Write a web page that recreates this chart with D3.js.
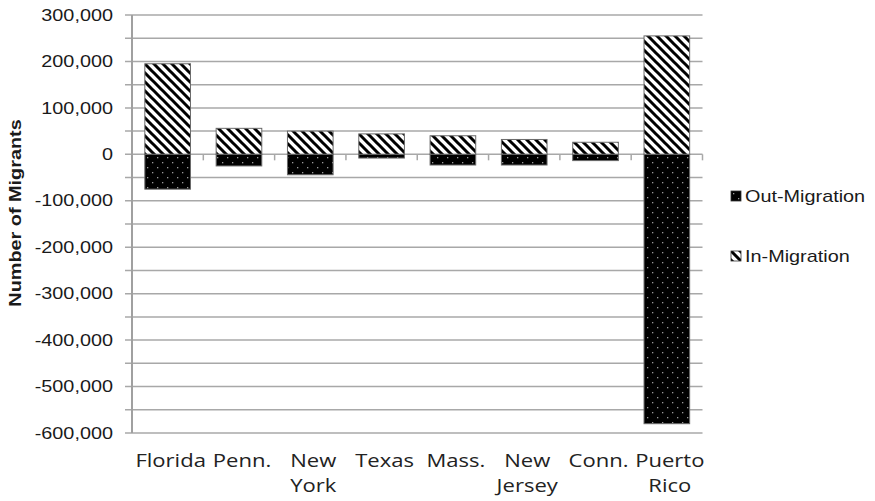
<!DOCTYPE html>
<html>
<head>
<meta charset="utf-8">
<script src="https://cdn.jsdelivr.net/npm/d3@7"></script>
<style>
  html, body { margin: 0; padding: 0; background: #fff; }
  svg { display: block; }
</style>
</head>
<body>
<svg id="chart" width="875" height="501"></svg>
<script>
// Net migration by state: people moving in vs. moving out
const categories = [["Florida"], ["Penn."], ["New", "York"], ["Texas"], ["Mass."], ["New", "Jersey"], ["Conn."], ["Puerto", "Rico"]];
const inMigration  = [195000, 56000, 50000, 44000, 40000, 32000, 26000, 255000];
const outMigration = [-75000, -25000, -44000, -8000, -23000, -23000, -13500, -580000];
const yTicks = [300000, 200000, 100000, 0, -100000, -200000, -300000, -400000, -500000, -600000];
const legendItems = ["Out-Migration", "In-Migration"];

const svg = d3.select("#chart");
const plotLeft = 132, plotRight = 702.5, plotTop = 15, plotBottom = 433;
const sx = 1.24; // horizontal stretch of the lettering
const sansFont = "'Liberation Sans', Arial, Helvetica, sans-serif";

const x = d3.scaleBand()
  .domain(d3.range(categories.length))
  .range([plotLeft, plotRight])
  .paddingInner(0.36)
  .paddingOuter(0.18);
const y = d3.scaleLinear().domain([-600000, 300000]).range([plotBottom, plotTop]);

// Fill patterns
const defs = svg.append("defs");
const stripes = defs.append("pattern")
  .attr("id", "stripes").attr("patternUnits", "userSpaceOnUse")
  .attr("width", 9).attr("height", 9);
stripes.append("rect").attr("width", 9).attr("height", 9).attr("fill", "#fff");
stripes.append("path")
  .attr("d", "M-2,-2 L11,11 M-6.5,2.5 L2.5,11.5 M2.5,-6.5 L11.5,2.5")
  .attr("stroke", "#000").attr("stroke-width", 3);

const dots = defs.append("pattern")
  .attr("id", "dots").attr("patternUnits", "userSpaceOnUse")
  .attr("width", 10).attr("height", 10);
dots.append("rect").attr("width", 10).attr("height", 10).attr("fill", "#000");
dots.append("rect").attr("x", 2).attr("y", 2).attr("width", 1.3).attr("height", 1.3).attr("fill", "#9a9a9a");
dots.append("rect").attr("x", 7).attr("y", 7).attr("width", 1.3).attr("height", 1.3).attr("fill", "#9a9a9a");

// Gridlines every 50,000 with matching left ticks
const gridVals = d3.range(-600000, 300001, 50000);
svg.append("g").selectAll("line").data(gridVals).join("line")
  .attr("x1", plotLeft - 7).attr("x2", plotRight)
  .attr("y1", d => y(d)).attr("y2", d => y(d))
  .attr("stroke", "#a8a8a8").attr("stroke-width", 1.5);

// Category ticks below the zero line
const bounds = d3.range(1, categories.length + 1).map(i => plotLeft + (plotRight - plotLeft) * i / categories.length);
svg.append("g").selectAll("line").data(bounds).join("line")
  .attr("x1", d => d).attr("x2", d => d)
  .attr("y1", y(0)).attr("y2", y(0) + 6)
  .attr("stroke", "#a8a8a8").attr("stroke-width", 1.5);

// Y axis line
svg.append("line")
  .attr("x1", plotLeft).attr("x2", plotLeft).attr("y1", plotTop).attr("y2", plotBottom)
  .attr("stroke", "#a0a0a0").attr("stroke-width", 2);

// Bars
const bars = svg.append("g");
bars.selectAll("rect.in").data(inMigration).join("rect")
  .attr("class", "in")
  .attr("x", (d, i) => x(i)).attr("width", x.bandwidth())
  .attr("y", d => y(d)).attr("height", d => y(0) - y(d))
  .attr("fill", "url(#stripes)").attr("stroke", "#6a6a6a").attr("stroke-width", 1);
bars.selectAll("rect.out").data(outMigration).join("rect")
  .attr("class", "out")
  .attr("x", (d, i) => x(i)).attr("width", x.bandwidth())
  .attr("y", y(0)).attr("height", d => y(d) - y(0))
  .attr("fill", "url(#dots)").attr("stroke", "#6a6a6a").attr("stroke-width", 1);

// Y tick labels (plain hyphen for negatives)
const fmt = d3.format(",");
svg.append("g").selectAll("g").data(yTicks).join("g")
  .attr("transform", d => `translate(113,${y(d) + 5.7}) scale(${sx},1)`)
  .append("text")
  .attr("text-anchor", "end")
  .style("font-family", sansFont)
  .attr("font-size", 16).attr("fill", "#1a1a1a")
  .text(d => fmt(d).replace("\u2212", "-"));

// Y title
svg.append("text")
  .attr("transform", `translate(21,213) rotate(-90) scale(${sx},1)`)
  .attr("text-anchor", "middle")
  .style("font-family", sansFont)
  .attr("font-size", 16).attr("font-weight", "bold").attr("fill", "#1a1a1a")
  .text("Number of Migrants");

// Category labels
const cat = svg.append("g").selectAll("g").data(categories).join("g")
  .attr("transform", (d, i) => `translate(${x(i) + x.bandwidth() / 2 + 3},467) scale(1.16,1)`);
cat.append("text")
  .attr("text-anchor", "middle")
  .style("font-family", "'Open Sans', sans-serif")
  .attr("font-size", 19).attr("fill", "#222")
  .selectAll("tspan").data(d => d).join("tspan")
  .attr("x", 0).attr("y", (d, i) => i * 25)
  .text(d => d);

// Legend
const legend = svg.append("g").selectAll("g").data(legendItems).join("g")
  .attr("transform", (d, i) => `translate(731,${191 + i * 60})`);
legend.append("rect")
  .attr("width", 10).attr("height", 10)
  .attr("fill", (d, i) => i === 0 ? "url(#dots)" : "url(#stripes)")
  .attr("stroke", "#333").attr("stroke-width", 0.8);
legend.append("g")
  .attr("transform", `translate(14,11) scale(${sx},1)`)
  .append("text")
  .style("font-family", sansFont)
  .attr("font-size", 16).attr("fill", "#1a1a1a")
  .text(d => d);
</script>
</body>
</html>
